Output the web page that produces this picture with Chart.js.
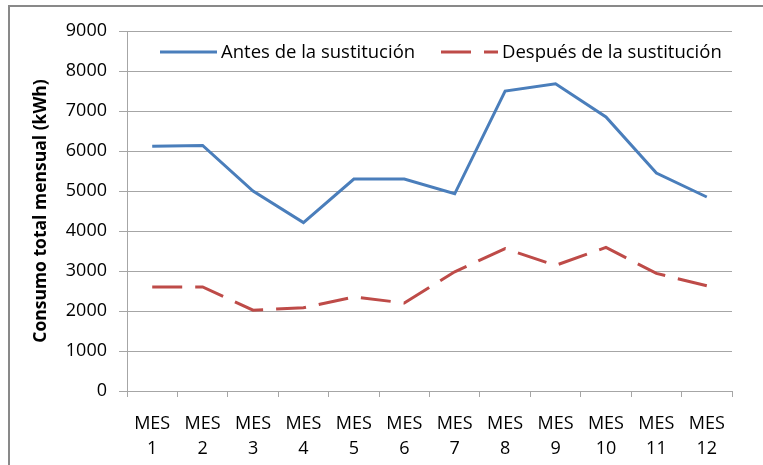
<!DOCTYPE html>
<html>
<head>
<meta charset="utf-8">
<script src="https://cdn.jsdelivr.net/npm/chart.js@4.4.0/dist/chart.umd.min.js"></script>
<style>
  html, body { margin: 0; padding: 0; background: #fff; }
</style>
</head>
<body>
<canvas id="consumoChart" width="763" height="465"></canvas>
<script>
// datos
const meses = ["MES 1", "MES 2", "MES 3", "MES 4", "MES 5", "MES 6", "MES 7", "MES 8", "MES 9", "MES 10", "MES 11", "MES 12"];
const antes = [6120, 6140, 5000, 4210, 5300, 5300, 4930, 7500, 7680, 6850, 5450, 4850];
const despues = [2600, 2600, 2020, 2080, 2350, 2200, 2980, 3560, 3140, 3590, 2940, 2630];
const yMin = 0;
const yMax = 9000;
const yPaso = 1000;

const fuente = "'Open Sans', Lato, sans-serif";
const gris = "#a6a6a6";

// leyenda dentro del area del grafico, como en Excel
const leyendaInterna = {
    id: "leyendaInterna",
    afterDatasetsDraw(chart) {
        const ctx = chart.ctx;
        const posX = [160, 441];
        const y = 52;
        ctx.save();
        chart.data.datasets.forEach((ds, i) => {
            const x0 = posX[i];
            ctx.beginPath();
            ctx.strokeStyle = ds.borderColor;
            ctx.lineWidth = ds.borderWidth;
            ctx.setLineDash(ds.borderDash || []);
            ctx.moveTo(x0, y);
            ctx.lineTo(x0 + 57, y);
            ctx.stroke();
            ctx.setLineDash([]);
            ctx.fillStyle = "#000";
            ctx.font = "18.5px " + fuente;
            ctx.textBaseline = "middle";
            ctx.fillText(ds.label, x0 + 61, y + 1);
        });
        ctx.restore();
    },
    beforeDraw(chart) {
        // marco exterior del grafico
        const ctx = chart.ctx;
        ctx.save();
        ctx.fillStyle = "#fff";
        ctx.fillRect(0, 0, chart.width, chart.height);
        ctx.strokeStyle = "#898989";
        ctx.lineWidth = 2;
        ctx.beginPath();
        ctx.moveTo(9, chart.height);
        ctx.lineTo(9, 6);
        ctx.lineTo(chart.width, 6);
        ctx.stroke();
        ctx.restore();
    }
};

new Chart(document.getElementById("consumoChart"), {
    type: "line",
    data: {
        labels: meses,
        datasets: [{
            label: "Antes de la sustitución",
            data: antes,
            borderColor: "#4a7ebb",
            borderWidth: 3,
            pointRadius: 0,
            tension: 0,
            fill: false
        }, {
            label: "Después de la sustitución",
            data: despues,
            borderColor: "#be4b48",
            borderWidth: 3,
            borderDash: [30, 13],
            pointRadius: 0,
            tension: 0,
            fill: false
        }]
    },
    options: {
        responsive: false,
        animation: false,
        devicePixelRatio: 1,
        layout: {
            padding: { left: 0, right: 31, top: 31, bottom: 0 }
        },
        plugins: {
            legend: { display: false },
            tooltip: { enabled: false }
        },
        scales: {
            x: {
                offset: true,
                grid: {
                    offset: true,
                    drawOnChartArea: false,
                    color: gris,
                    tickLength: 6
                },
                border: { color: gris, width: 1 },
                ticks: {
                    autoSkip: false,
                    maxRotation: 0,
                    padding: 14,
                    color: "#000",
                    font: { family: fuente, size: 18, lineHeight: 1.42 },
                    callback: function (value) {
                        return this.getLabelForValue(value).split(" ");
                    }
                },
                afterFit: function (scale) {
                    scale.height = 74;
                }
            },
            y: {
                min: yMin,
                max: yMax,
                grid: {
                    color: gris,
                    tickLength: 8
                },
                border: { color: gris, width: 1 },
                ticks: {
                    stepSize: yPaso,
                    padding: 12,
                    color: "#000",
                    font: { family: fuente, size: 18 },
                    callback: (v) => String(v)
                },
                title: {
                    display: true,
                    text: "Consumo total mensual (kWh)",
                    color: "#000",
                    font: { family: fuente, size: 17.5, weight: "bold" },
                    padding: { top: 31, bottom: 0 }
                },
                afterFit: function (scale) {
                    scale.width = 127;
                }
            }
        }
    },
    plugins: [leyendaInterna]
});
</script>
</body>
</html>
